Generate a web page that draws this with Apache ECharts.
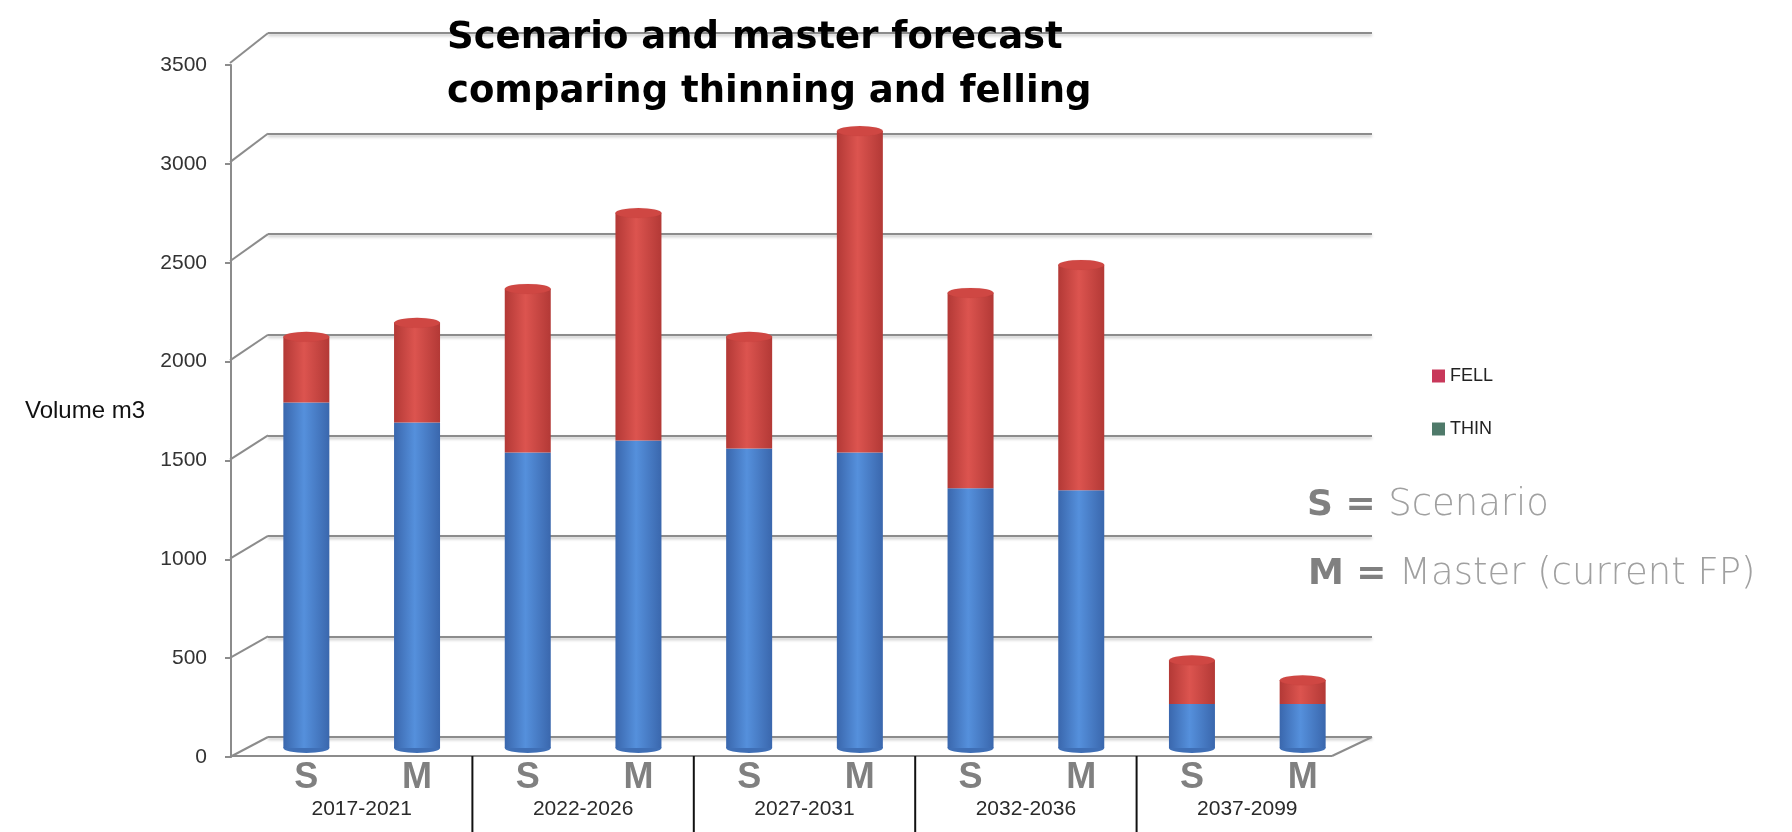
<!DOCTYPE html>
<html>
<head>
<meta charset="utf-8">
<script src="https://cdn.jsdelivr.net/npm/echarts@6/dist/echarts.min.js"></script>
<style>
html, body { margin: 0; padding: 0; background: #fff; }
#chart { width: 1792px; height: 832px; }
</style>
</head>
<body>
<div id="chart"></div>
<script>
// periods, two bars each: S = scenario, M = master
var periods = ['2017-2021', '2022-2026', '2027-2031', '2032-2036', '2037-2099'];
var barCodes = ['S', 'M', 'S', 'M', 'S', 'M', 'S', 'M', 'S', 'M'];
// volume m3
var thinValues = [1730, 1630, 1480, 1540, 1500, 1480, 1300, 1290, 220, 220];
var fellValues = [330, 500, 820, 1140, 560, 1610, 980, 1130, 220, 120];
// value axis ticks
var yTicks = [0, 500, 1000, 1500, 2000, 2500, 3000, 3500];

var totals = [];
for (var i = 0; i < thinValues.length; i++) {
	totals.push(thinValues[i] + fellValues[i]);
}

var myChart = echarts.init(document.getElementById('chart'));

// cylinder-ish shading
var cyl = function(edge, mid) {
	return new echarts.graphic.LinearGradient(0, 0, 1, 0, [
		{ offset: 0, color: edge },
		{ offset: 0.45, color: mid },
		{ offset: 1, color: edge }
	]);
};
var gridColor = '#8c8c8c';
var noteStyle = {
	b: { fontFamily: 'DejaVu Sans', fontWeight: 'bold', fontSize: 36, fill: '#808080' },
	n: { fontFamily: 'DejaVu Sans', fontWeight: 200, fontSize: 37, fill: '#a0a0a0' }
};

var option = {
	animation: false,
	backgroundColor: '#fff',
	title: {
		text: 'Scenario and master forecast\ncomparing thinning and felling',
		left: 442,
		top: 6,
		textStyle: {
			fontFamily: 'DejaVu Sans',
			fontWeight: 'bold',
			fontSize: 37,
			lineHeight: 54,
			color: '#000'
		}
	},
	legend: {
		orient: 'vertical',
		left: 1427,
		top: 362,
		itemWidth: 13,
		itemHeight: 13,
		itemGap: 35,
		icon: 'rect',
		textStyle: { fontFamily: 'Liberation Sans', fontSize: 18, color: '#222' },
		data: [
			{ name: 'FELL', itemStyle: { color: '#c8385a' } },
			{ name: 'THIN', itemStyle: { color: '#4f7a6a' } }
		]
	},
	grid: [
		// back wall with the gridlines
		{ left: 268, top: 33, width: 1104, height: 704 },
		// front value axis
		{ left: 231, top: 65, width: 10, height: 692 },
		// bars
		{ left: 251, top: 49, width: 1107, height: 699 }
	],
	xAxis: [
		{ gridIndex: 0, type: 'value', min: 0, max: 1, show: false },
		{ gridIndex: 1, type: 'value', min: 0, max: 1, show: false },
		{
			gridIndex: 2,
			type: 'category',
			data: barCodes,
			axisLine: { show: false },
			axisTick: { show: false },
			axisLabel: {
				margin: 12,
				fontFamily: 'Liberation Sans',
				fontWeight: 'bold',
				fontSize: 36,
				lineHeight: 36,
				color: '#808080'
			}
		},
		{
			gridIndex: 2,
			type: 'category',
			data: periods,
			position: 'bottom',
			offset: 8,
			axisLine: { show: false },
			axisTick: { show: false },
			axisLabel: {
				margin: 43,
				fontFamily: 'Liberation Sans',
				fontSize: 21,
				color: '#2a2a2a'
			}
		}
	],
	yAxis: [
		{
			gridIndex: 0,
			type: 'value',
			min: 0,
			max: 3500,
			interval: 500,
			axisLine: { show: false },
			axisTick: { show: false },
			axisLabel: { show: false },
			splitLine: {
				lineStyle: {
					color: gridColor,
					width: 2,
					shadowColor: 'rgba(0,0,0,0.25)',
					shadowBlur: 3,
					shadowOffsetY: 2
				}
			}
		},
		{
			gridIndex: 1,
			type: 'value',
			min: 0,
			max: 3500,
			interval: 500,
			name: 'Volume m3',
			nameLocation: 'middle',
			nameRotate: 0,
			nameGap: 86,
			nameTextStyle: { fontFamily: 'Liberation Sans', fontSize: 24, color: '#111' },
			axisLine: { show: true, lineStyle: { color: gridColor, width: 2 } },
			axisTick: { show: true, length: 6, lineStyle: { color: gridColor, width: 2 } },
			axisLabel: {
				margin: 24,
				fontFamily: 'Liberation Sans',
				fontSize: 21,
				color: '#333',
				formatter: function(v) { return String(v); }
			},
			splitLine: { show: false }
		},
		{ gridIndex: 2, type: 'value', min: 0, max: 3500, interval: 500, show: false }
	],
	graphic: [
		{
			type: 'text',
			left: 1307,
			top: 487,
			style: { text: '{b|S = }{n|Scenario}', rich: noteStyle }
		},
		{
			type: 'text',
			left: 1308,
			top: 556,
			style: { text: '{b|M = }{n|Master (current FP)}', rich: noteStyle }
		}
	],
	series: [
		{
			name: 'THIN',
			type: 'bar',
			stack: 'vol',
			xAxisIndex: 2,
			yAxisIndex: 2,
			barWidth: 46,
			data: thinValues,
			itemStyle: { color: cyl('#3a67ad', '#5590dc') }
		},
		{
			name: 'FELL',
			type: 'bar',
			stack: 'vol',
			xAxisIndex: 2,
			yAxisIndex: 2,
			barWidth: 46,
			data: fellValues,
			itemStyle: { color: cyl('#b33936', '#dc544f') }
		},
		{
			// top of the cylinders
			name: 'cap',
			type: 'pictorialBar',
			xAxisIndex: 2,
			yAxisIndex: 2,
			symbol: 'circle',
			symbolSize: [46, 10],
			symbolPosition: 'end',
			symbolOffset: [0, '-50%'],
			z: 3,
			data: totals,
			itemStyle: { color: '#cf4743', borderColor: '#9e2f2c', borderWidth: 1 }
		},
		{
			// bottom of the cylinders
			name: 'base',
			type: 'pictorialBar',
			xAxisIndex: 2,
			yAxisIndex: 2,
			symbol: 'circle',
			symbolSize: [46, 10],
			symbolPosition: 'start',
			symbolOffset: [0, '50%'],
			z: 1,
			data: thinValues,
			itemStyle: { color: '#3f6fb6' }
		},
		{
			// slanted tick lines and floor edge
			name: 'frame',
			type: 'custom',
			xAxisIndex: 0,
			yAxisIndex: 0,
			silent: true,
			data: yTicks.map(function(v) { return [0, v]; }),
			renderItem: function(params, api) {
				var v = api.value(1);
				var p = api.coord([0, v]);
				var dy = 20 + 10 * v / 3500;
				var children = [{
					type: 'line',
					shape: { x1: p[0], y1: p[1], x2: p[0] - 38, y2: p[1] + dy },
					style: { stroke: gridColor, lineWidth: 2 }
				}];
				if (v === 0) {
					var r = api.coord([1, 0]);
					children.push({
						type: 'line',
						shape: { x1: r[0], y1: r[1], x2: r[0] - 40, y2: r[1] + 19 },
						style: { stroke: gridColor, lineWidth: 2 }
					});
					children.push({
						type: 'line',
						shape: { x1: p[0] - 38, y1: p[1] + 19, x2: r[0] - 40, y2: r[1] + 19 },
						style: { stroke: gridColor, lineWidth: 2 }
					});
				}
				return { type: 'group', children: children };
			}
		},
		{
			// dividers between the periods
			name: 'dividers',
			type: 'custom',
			xAxisIndex: 3,
			yAxisIndex: 2,
			silent: true,
			data: periods.slice(1).map(function(p) { return [p, 0]; }),
			renderItem: function(params, api) {
				var c = api.coord([api.value(0), 0]);
				var w = api.size([1, 0])[0];
				var x = c[0] - w / 2;
				return {
					type: 'line',
					shape: { x1: x, y1: c[1] + 8, x2: x, y2: api.getHeight() },
					style: { stroke: '#111', lineWidth: 2 }
				};
			}
		}
	]
};
myChart.setOption(option);
</script>
</body>
</html>
